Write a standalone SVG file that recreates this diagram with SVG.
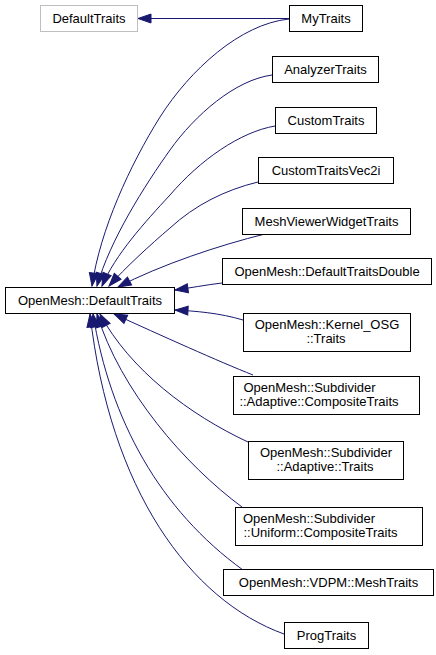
<svg xmlns="http://www.w3.org/2000/svg" width="436" height="655" viewBox="0 0 436 655">
<style>
  .box { fill: #ffffff; stroke: #000000; stroke-width: 1; }
  .gray { fill: #ffffff; stroke: #bfbfbf; stroke-width: 1; }
  text { font-family: "Liberation Sans", Arial, Helvetica, sans-serif; font-size: 13px; fill: #000000; text-anchor: middle; }
  .edge { fill: none; stroke: #191970; stroke-width: 1; marker-end: url(#arrow); }
</style>
<defs>
  <marker id="arrow" markerWidth="14" markerHeight="10" refX="13" refY="4.5" orient="auto" markerUnits="userSpaceOnUse" overflow="visible">
    <path d="M0,0 L13,4.5 L0,9 z" fill="#191970" stroke="#191970" stroke-width="1"/>
  </marker>
</defs>
<rect width="436" height="655" fill="#ffffff"/>
<g id="connectors">
  <path class="edge" d="M289,18.5 L138,18.5"/>
  <path class="edge" d="M289,19 C240,24 190,70 160,117 C130,165 100,230 92,286"/>
  <path class="edge" d="M272,75 C235,80 195,115 170,150 C145,185 110,240 97,286"/>
  <path class="edge" d="M275,126 C240,132 200,160 170,195 C145,222 115,255 102,286"/>
  <path class="edge" d="M258,182 C225,190 195,205 170,228 C150,245 125,268 109,286"/>
  <path class="edge" d="M265,234 C220,245 160,265 118,287"/>
  <path class="edge" d="M222,283 C205,285 190,288 175,290"/>
  <path class="edge" d="M243,320 C220,313 195,311 175,310"/>
  <path class="edge" d="M253,375 C220,362 160,335 114,314"/>
  <path class="edge" d="M248,442 C190,415 130,370 100,314"/>
  <path class="edge" d="M242,507 C185,465 120,390 97,314"/>
  <path class="edge" d="M243,570 C160,510 110,420 93,314"/>
  <path class="edge" d="M284,634 C190,600 110,490 90,314"/>
</g>
<g id="node-DefaultTraits">
  <rect class="gray" x="40.5" y="5.5" width="97" height="26"/>
  <text x="89" y="23">DefaultTraits</text>
</g>
<g id="node-MyTraits">
  <rect class="box" x="289.5" y="5.5" width="73" height="26"/>
  <text x="326" y="23">MyTraits</text>
</g>
<g id="node-AnalyzerTraits">
  <rect class="box" x="272.5" y="56.5" width="106" height="26"/>
  <text x="325.5" y="74">AnalyzerTraits</text>
</g>
<g id="node-CustomTraits">
  <rect class="box" x="275.5" y="107.5" width="101" height="26"/>
  <text x="326" y="125">CustomTraits</text>
</g>
<g id="node-CustomTraitsVec2i">
  <rect class="box" x="258.5" y="157.5" width="135" height="26"/>
  <text x="326" y="175">CustomTraitsVec2i</text>
</g>
<g id="node-MeshViewerWidgetTraits">
  <rect class="box" x="242.5" y="208.5" width="168" height="26"/>
  <text x="326.5" y="226">MeshViewerWidgetTraits</text>
</g>
<g id="node-DefaultTraitsDouble">
  <rect class="box" x="222.5" y="258.5" width="209" height="26"/>
  <text x="327" y="276">OpenMesh::DefaultTraitsDouble</text>
</g>
<g id="node-OpenMeshDefaultTraits">
  <rect class="box" x="5.5" y="287.5" width="169" height="26"/>
  <text x="90" y="305">OpenMesh::DefaultTraits</text>
</g>
<g id="node-KernelOSGTraits">
  <rect class="box" x="243.5" y="313.5" width="167" height="38"/>
  <text x="327" y="329">OpenMesh::Kernel_OSG</text>
  <text x="326" y="342.5">::Traits</text>
</g>
<g id="node-AdaptiveCompositeTraits">
  <rect class="box" x="233.5" y="376.5" width="186" height="38"/>
  <text x="309.5" y="392">OpenMesh::Subdivider</text>
  <text x="319" y="405.5">::Adaptive::CompositeTraits</text>
</g>
<g id="node-AdaptiveTraits">
  <rect class="box" x="248.5" y="441.5" width="155" height="38"/>
  <text x="326" y="457">OpenMesh::Subdivider</text>
  <text x="325" y="470.5">::Adaptive::Traits</text>
</g>
<g id="node-UniformCompositeTraits">
  <rect class="box" x="235.5" y="507.5" width="187" height="38"/>
  <text x="309" y="523">OpenMesh::Subdivider</text>
  <text x="320.5" y="536.5">::Uniform::CompositeTraits</text>
</g>
<g id="node-VDPMMeshTraits">
  <rect class="box" x="223.5" y="569.5" width="210" height="26"/>
  <text x="328.5" y="587">OpenMesh::VDPM::MeshTraits</text>
</g>
<g id="node-ProgTraits">
  <rect class="box" x="284.5" y="622.5" width="84" height="26"/>
  <text x="326.5" y="640">ProgTraits</text>
</g>
</svg>
